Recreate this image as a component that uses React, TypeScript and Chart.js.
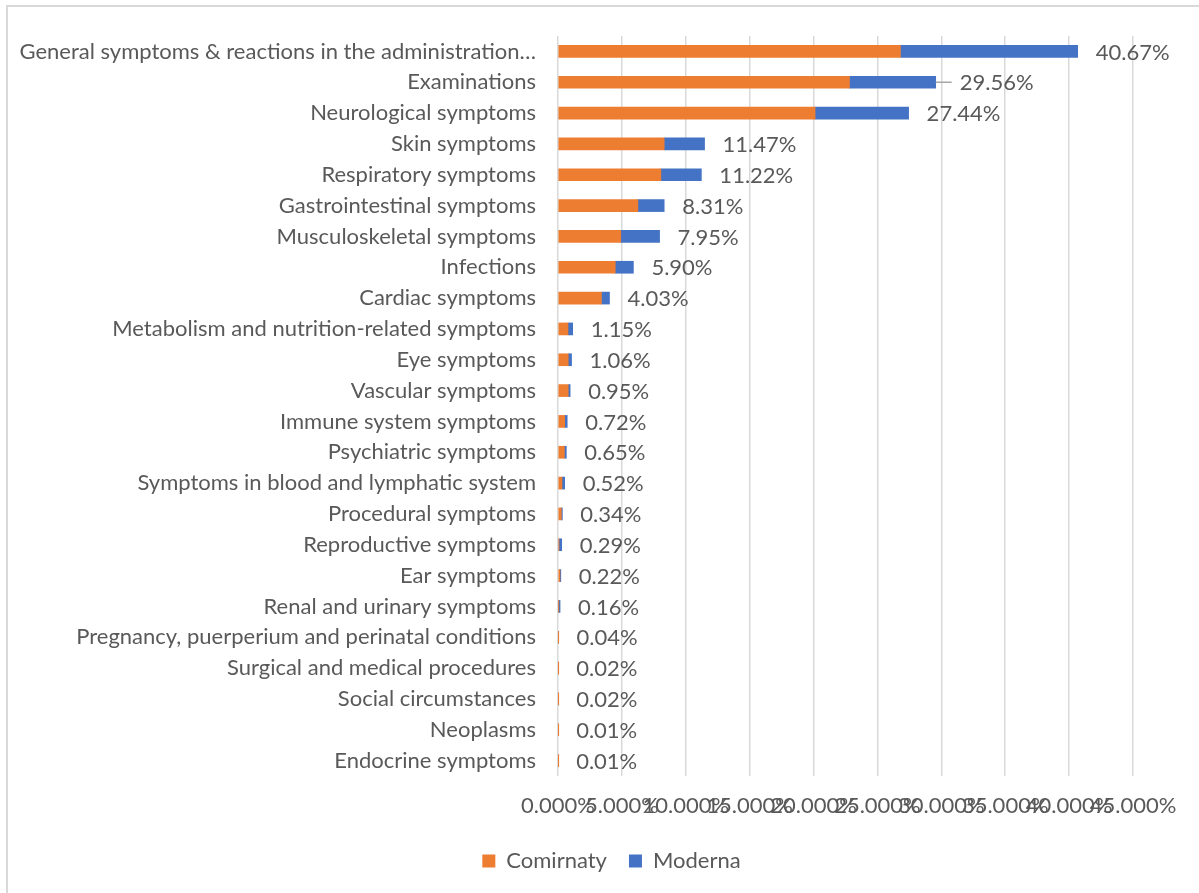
import React, { useEffect, useRef } from "react";
import { Chart, registerables } from "chart.js";

Chart.register(...registerables);

const categories = [
  "General symptoms & reactions in the administration…",
  "Examinations",
  "Neurological symptoms",
  "Skin symptoms",
  "Respiratory symptoms",
  "Gastrointestinal symptoms",
  "Musculoskeletal symptoms",
  "Infections",
  "Cardiac symptoms",
  "Metabolism and nutrition-related symptoms",
  "Eye symptoms",
  "Vascular symptoms",
  "Immune system symptoms",
  "Psychiatric symptoms",
  "Symptoms in blood and lymphatic system",
  "Procedural symptoms",
  "Reproductive symptoms",
  "Ear symptoms",
  "Renal and urinary symptoms",
  "Pregnancy, puerperium and perinatal conditions",
  "Surgical and medical procedures",
  "Social circumstances",
  "Neoplasms",
  "Endocrine symptoms",
];

const comirnaty = [
  26.8, 22.81, 20.12, 8.31, 8.05, 6.25, 4.91, 4.48, 3.4, 0.78, 0.8, 0.8, 0.52,
  0.5, 0.31, 0.26, 0.08, 0.15, 0.04, 0.03, 0.01, 0.01, 0.01, 0.005,
];

const moderna = [
  13.87, 6.75, 7.32, 3.16, 3.17, 2.06, 3.04, 1.42, 0.63, 0.37, 0.26, 0.15, 0.2,
  0.15, 0.21, 0.08, 0.21, 0.07, 0.12, 0.01, 0.01, 0.01, 0.0, 0.005,
];

const xTickMin = 0;
const xTickMax = 45;
const xTickStep = 5;

const FONT = "Lato";
const FONT_SIZE = 22;
const TEXT = "#595959";

const totalLabelsPlugin = {
  id: "totalLabels",
  afterLayout(chart: any) {
    // shift the bottom legend to sit centred under the whole frame
    if (chart.legend) {
      chart.legend.left += 45;
      chart.legend.right += 45;
    }
  },
  afterDatasetsDraw(chart: any) {
    const { ctx } = chart;
    const xScale = chart.scales.x;
    const meta = chart.getDatasetMeta(1);
    ctx.save();
    ctx.font = `${FONT_SIZE}px ${FONT}`;
    ctx.fillStyle = TEXT;
    ctx.textAlign = "left";
    ctx.textBaseline = "middle";
    categories.forEach((_, i) => {
      const total = comirnaty[i] + moderna[i];
      const end = xScale.getPixelForValue(total);
      const y = meta.data[i].y;
      let x = end + 18;
      if (i === 1) {
        ctx.strokeStyle = "#a6a6a6";
        ctx.lineWidth = 1.5;
        ctx.beginPath();
        ctx.moveTo(end, y);
        ctx.lineTo(end + 16, y);
        ctx.stroke();
        x = end + 24;
      }
      ctx.fillText(total.toFixed(2) + "%", x, y + 1);
    });
    ctx.restore();
  },
};

export default function App() {
  const ref = useRef<HTMLCanvasElement>(null);
  useEffect(() => {
    if (!ref.current) return;
    const chart = new Chart(ref.current, {
      type: "bar",
      data: {
        labels: categories,
        datasets: [
          {
            label: "Comirnaty",
            data: comirnaty,
            backgroundColor: "#ED7D31",
            barThickness: 12,
          },
          {
            label: "Moderna",
            data: moderna,
            backgroundColor: "#4472C4",
            barThickness: 12,
          },
        ],
      },
      options: {
        indexAxis: "y",
        animation: false,
        responsive: false,
        maintainAspectRatio: false,
        layout: { padding: { left: 0, right: 66, top: 36, bottom: 11 } },
        plugins: {
          legend: {
            position: "bottom",
            labels: {
              font: { family: FONT, size: FONT_SIZE },
              color: TEXT,
              boxWidth: 13,
              boxHeight: 13,
              padding: 22,
            },
          },
          tooltip: { enabled: false },
        },
        scales: {
          x: {
            stacked: true,
            min: xTickMin,
            max: xTickMax,
            border: { display: false },
            grid: { color: "#d9d9d9", lineWidth: 1.5, drawTicks: false },
            ticks: {
              stepSize: xTickStep,
              autoSkip: false,
              maxRotation: 0,
              minRotation: 0,
              padding: 17,
              color: TEXT,
              font: { family: FONT, size: FONT_SIZE },
              callback: (v: any) => Number(v).toFixed(3) + "%",
            },
            afterFit: (axis: any) => {
              axis.height = 52;
            },
          },
          y: {
            stacked: true,
            border: { display: false },
            grid: { display: false, drawTicks: false },
            ticks: {
              autoSkip: false,
              padding: 22,
              color: TEXT,
              font: { family: FONT, size: FONT_SIZE },
            },
            afterFit: (axis: any) => {
              axis.width = 558;
            },
          },
        },
      },
      plugins: [totalLabelsPlugin],
    });
    return () => chart.destroy();
  }, []);

  return (
    <div
      style={{
        position: "fixed",
        left: 0,
        top: 0,
        width: 1199,
        height: 893,
        overflow: "hidden",
        background: "#fff",
      }}
    >
      <div
        style={{
          position: "absolute",
          left: 6,
          top: 5,
          width: 1300,
          height: 1000,
          border: "2px solid #d9d9d9",
          boxSizing: "border-box",
        }}
      />
      <canvas
        ref={ref}
        width={1199}
        height={893}
        style={{ position: "absolute", left: 0, top: 0 }}
      />
    </div>
  );
}
